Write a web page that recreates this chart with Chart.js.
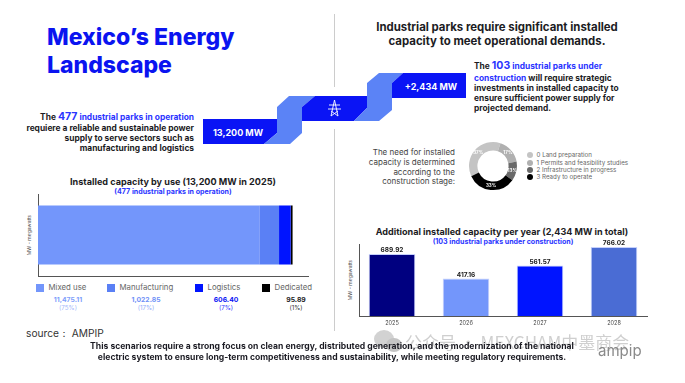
<!DOCTYPE html>
<html>
<head>
<meta charset="utf-8">
<script src="https://cdn.jsdelivr.net/npm/chart.js@4"></script>
<style>
  html, body { margin: 0; padding: 0; background: #fff; }
  #page { position: relative; width: 685px; height: 383px; overflow: hidden; font-family: Inter, sans-serif; color: #1c1c24; }
  #page canvas { position: absolute; }
  .t { position: absolute; white-space: nowrap; line-height: 1; }
  .r { transform: translate(-100%, -50%); text-align: right; }
  .l { transform: translate(0, -50%); }
  .c { transform: translate(-50%, -50%); text-align: center; }
  .b { font-weight: 700; }
  .blue { color: #2b35ff; }
  .rot { transform: translate(-50%, -50%) rotate(-90deg); font-size: 5px; color: #555; }
  .sq { position: absolute; width: 8px; height: 8px; }
  .dot { position: absolute; width: 6px; height: 6px; border-radius: 50%; }
</style>
</head>
<body>
<div id="page">
  <!-- divider -->
  <div style="position:absolute;left:334px;top:14px;width:1px;height:73px;background:#ccc"></div>
  <div style="position:absolute;left:334px;top:129px;width:1px;height:202px;background:#ccc"></div>

  <!-- ribbon -->
  <svg width="685" height="383" style="position:absolute;left:0;top:0">
    <polygon fill="#0a14f5" points="203,119 277,119 277,133 264,144 203,144"/>
    <polygon fill="#5b83f6" points="277,107 289,96 315,96 302,107 302,133 290,144 264,144 277,133"/>
    <polygon fill="#0a14f5" points="302,107 315,96 367,96 367,108 354,121 302,121"/>
    <polygon fill="#5b83f6" points="367,83 379,73 403,73 392,83 392,110 379,121 354,121 367,108"/>
    <polygon fill="#0a14f5" points="392,83 403,73 466,73 466,98 392,98"/>
    <g fill="none" stroke="#fff" stroke-width="0.9">
      <path d="M331 116 L334.5 100 L338 116 M329 105 H340 M328 109 H341 M331 116 L338 111 M338 116 L331 111"/>
    </g>
  </svg>
  <div class="t c b" style="left:238px;top:132px;font-size:9px;color:#fff">13,200 MW</div>
  <div class="t c b" style="left:431px;top:86px;font-size:9px;color:#fff">+2,434 MW</div>

  <!-- headings -->
  <div class="t l" style="left:47px;top:37px;font-size:23px;font-weight:800;color:#0a14f0">Mexico’s Energy</div>
  <div class="t l" style="left:47px;top:65px;font-size:23px;font-weight:800;color:#0a14f0">Landscape</div>
  <div class="t c b" style="left:497px;top:28px;font-size:11.4px">Industrial parks require significant installed</div>
  <div class="t c b" style="left:497px;top:42px;font-size:11.4px">capacity to meet operational demands.</div>

  <!-- left paragraph -->
  <div class="t r b" style="left:194px;top:117px;font-size:8.4px">The <span class="blue" style="font-size:10.5px">477</span> <span class="blue">industrial parks in operation</span></div>
  <div class="t r b" style="left:194px;top:128px;font-size:8.4px">requiere a reliable and sustainable power</div>
  <div class="t r b" style="left:194px;top:138px;font-size:8.4px">supply to serve sectors such as</div>
  <div class="t r b" style="left:194px;top:148px;font-size:8.4px">manufacturing and logistics</div>

  <!-- right paragraph -->
  <div class="t l b" style="left:474px;top:66px;font-size:8.4px">The <span class="blue" style="font-size:10.5px">103</span> <span class="blue">industrial parks under</span></div>
  <div class="t l b" style="left:474px;top:78px;font-size:8.4px"><span class="blue">construction</span> will require strategic</div>
  <div class="t l b" style="left:474px;top:88px;font-size:8.4px">investments in installed capacity to</div>
  <div class="t l b" style="left:474px;top:98px;font-size:8.4px">ensure sufficient power supply for</div>
  <div class="t l b" style="left:474px;top:108px;font-size:8.4px">projected demand.</div>

  <!-- donut text -->
  <div class="t r" style="left:455px;top:152px;font-size:8px;color:#444">The need for installed</div>
  <div class="t r" style="left:455px;top:162px;font-size:8px;color:#444">capacity is determined</div>
  <div class="t r" style="left:455px;top:172px;font-size:8px;color:#444">according to the</div>
  <div class="t r" style="left:455px;top:181px;font-size:8px;color:#444">construction stage:</div>
  <canvas id="stageChart" style="left:467px;top:140px"></canvas>
  <div id="stageLegend"></div>

  <!-- stacked bar -->
  <div class="t c b" style="left:173px;top:182px;font-size:9.1px">Installed capacity by use (13,200 MW in 2025)</div>
  <div class="t c b blue" style="left:173px;top:192px;font-size:7.1px">(477 industrial parks in operation)</div>
  <div class="t rot" style="left:29px;top:235px">MW - megawatts</div>
  <canvas id="useChart" style="left:36px;top:192px"></canvas>
  <div id="useLegend"></div>

  <!-- yearly bars -->
  <div class="t c b" style="left:502px;top:232px;font-size:9.05px">Additional installed capacity per year (2,434 MW in total)</div>
  <div class="t c b blue" style="left:503px;top:242px;font-size:7.05px">(103 industrial parks under construction)</div>
  <div class="t rot" style="left:350px;top:280px">MW - megawatts</div>
  <canvas id="yearChart" style="left:357px;top:234px"></canvas>

  <!-- footer -->
  <div class="t l" style="left:26px;top:333px;font-size:10.2px;color:#333">source： AMPIP</div>
  <svg width="40" height="30" style="position:absolute;left:372px;top:326px">
    <ellipse cx="12" cy="13" rx="10" ry="9" fill="#d2d2d2"/>
    <ellipse cx="22" cy="19" rx="8" ry="7" fill="#c4c4c4"/>
  </svg>
  <div class="t l" style="left:405px;top:341px;font-size:17px;color:#cfcfcf;font-family:'Noto Sans CJK SC',sans-serif">公众号 · MEXCHAM中墨商会</div>
  <div class="t l" style="left:598px;top:350px;font-size:15px;color:#8a8a8a">ampip</div>
  <div class="t c b" style="left:332px;top:346px;font-size:8.6px">This scenarios require a strong focus on clean energy, distributed generation, and the modernization of the national</div>
  <div class="t c b" style="left:332px;top:357px;font-size:8.6px">electric system to ensure long-term competitiveness and sustainability, while meeting regulatory requirements.</div>
</div>

<script>
// INSTALLED CAPACITY BY USE
const useLabels = ['Mixed use', 'Manufacturing', 'Logistics', 'Dedicated'];
const useValues = [11475.11, 1022.85, 606.40, 95.89];
const usePercents = ['(75%)', '(17%)', '(7%)', '(1%)'];
const useColors = ['#7396fb', '#5a80f5', '#0014ff', '#000000'];
const useTextColors = ['#7f9ffb', '#6f90f7', '#0a14f5', '#222222'];
const usePctColors = ['#a4b9fb', '#93adf9', '#2b35ff', '#333333'];

// STAGES OF CONSTRUCTION
const stageLabels = ['0 Land preparation', '1 Permits and feasibility studies', '2 Infrastructure in progress', '3 Ready to operate'];
const stageValues = [37, 17, 13, 33];
const stageColors = ['#c4c4c4', '#b0b0b0', '#696969', '#000000'];

// ADDITIONAL CAPACITY PER YEAR
const years = [2025, 2026, 2027, 2028];
const yearValues = [689.92, 417.16, 561.57, 766.02];
const yearColors = ['#000080', '#7396fb', '#0014ff', '#4a6cd4'];

const axisLine = { display: true, color: '#555', width: 1 };

function setSize(id, w, h) {
  const c = document.getElementById(id);
  c.width = w;
  c.height = h;
  return c.getContext('2d');
}

new Chart(setSize('useChart', 274, 86), {
  type: 'bar',
  data: {
    labels: ['2025'],
    datasets: useLabels.map((name, i) => ({
      label: name,
      data: [useValues[i]],
      backgroundColor: useColors[i],
      barPercentage: 0.72,
      categoryPercentage: 1
    }))
  },
  options: {
    indexAxis: 'y',
    responsive: false,
    animation: false,
    layout: { padding: 2 },
    plugins: { legend: { display: false }, tooltip: { enabled: false } },
    scales: {
      x: { stacked: true, min: 0, max: 14000, grid: { display: false, drawTicks: false }, ticks: { display: false }, border: axisLine },
      y: { stacked: true, grid: { display: false, drawTicks: false }, ticks: { display: false }, border: axisLine }
    }
  }
});

// white percentage labels on the donut
const stageLabelPlugin = {
  id: 'stageLabels',
  afterDatasetsDraw(chart) {
    const ctx = chart.ctx;
    ctx.save();
    ctx.fillStyle = '#fff';
    ctx.font = '700 4.5px Inter';
    ctx.textAlign = 'center';
    ctx.textBaseline = 'middle';
    chart.getDatasetMeta(0).data.forEach((arc, i) => {
      const p = arc.tooltipPosition();
      ctx.fillText(stageValues[i] + '%', p.x, p.y);
    });
    ctx.restore();
  }
};

new Chart(setSize('stageChart', 52, 52), {
  type: 'doughnut',
  data: {
    labels: stageLabels,
    datasets: [{ data: stageValues, backgroundColor: stageColors, borderWidth: 0 }]
  },
  options: {
    responsive: false,
    animation: false,
    rotation: 245,
    cutout: '65%',
    layout: { padding: 2 },
    plugins: { legend: { display: false }, tooltip: { enabled: false } }
  },
  plugins: [stageLabelPlugin]
});

// value labels above the yearly bars
const yearLabelPlugin = {
  id: 'yearLabels',
  afterDatasetsDraw(chart) {
    const ctx = chart.ctx;
    ctx.save();
    ctx.fillStyle = '#222';
    ctx.font = '700 6.5px Inter';
    ctx.textAlign = 'center';
    ctx.textBaseline = 'bottom';
    chart.getDatasetMeta(0).data.forEach((bar, i) => {
      ctx.fillText(yearValues[i].toFixed(2), bar.x, bar.y - 0.5);
    });
    ctx.restore();
  }
};

// linear x axis so the bars can sit wider apart than an even split of the axis
new Chart(setSize('yearChart', 292, 94), {
  type: 'bar',
  data: {
    datasets: [{
      data: years.map((y, i) => ({ x: y, y: yearValues[i] })),
      backgroundColor: yearColors,
      borderColor: '#c5d0fb',
      borderWidth: 1,
      barPercentage: 0.63,
      categoryPercentage: 1
    }]
  },
  options: {
    responsive: false,
    animation: false,
    layout: { padding: { left: 2, right: 2, top: 10, bottom: 0 } },
    plugins: { legend: { display: false }, tooltip: { enabled: false } },
    scales: {
      x: {
        type: 'linear',
        offset: false,
        min: 2024.554,
        max: 2028.446,
        afterFit: s => { s.height = 12; },
        grid: { display: false, drawTicks: false },
        border: axisLine,
        ticks: {
          stepSize: 1,
          includeBounds: false,
          maxRotation: 0,
          callback: v => String(v),
          color: '#444',
          font: { size: 5.5, family: 'Inter' },
          padding: 4
        }
      },
      y: { min: 0, max: 800, grid: { display: false, drawTicks: false }, ticks: { display: false }, border: axisLine }
    }
  },
  plugins: [yearLabelPlugin]
});

// html legends
const useSquareX = [36, 107, 195, 262];
const useValueX = [68, 146, 226, 296];
const useBox = document.getElementById('useLegend');
useLabels.forEach((name, i) => {
  useBox.innerHTML +=
    `<div class="sq" style="left:${useSquareX[i]}px;top:284px;background:${useColors[i]}"></div>` +
    `<div class="t l" style="left:${useSquareX[i] + 12.5}px;top:288px;font-size:7.8px;color:#666">${name}</div>` +
    `<div class="t c b" style="left:${useValueX[i]}px;top:300px;font-size:6.8px;color:${useTextColors[i]}">${useValues[i].toLocaleString('en-US', { minimumFractionDigits: 2 })}</div>` +
    `<div class="t c" style="left:${useValueX[i]}px;top:307.5px;font-size:6.2px;color:${usePctColors[i]}">${usePercents[i]}</div>`;
});

const stageY = [155, 162.5, 170, 177];
const stageBox = document.getElementById('stageLegend');
stageLabels.forEach((name, i) => {
  stageBox.innerHTML +=
    `<div class="dot" style="left:527px;top:${stageY[i] - 3}px;background:${stageColors[i]}"></div>` +
    `<div class="t l" style="left:536.5px;top:${stageY[i]}px;font-size:6.2px;color:#666">${name}</div>`;
});
</script>
</body>
</html>
